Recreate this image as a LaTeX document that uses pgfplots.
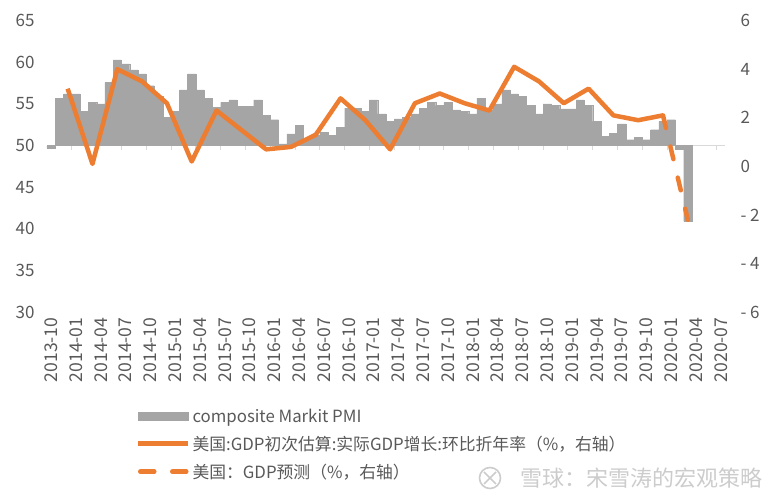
\documentclass[border=0pt]{standalone}
\usepackage{fontspec}
\setmainfont{Noto Sans CJK SC}
\usepackage{pgfplots}
\pgfplotsset{compat=1.18}
\usepackage{pgfplotstable}

\definecolor{bargray}{HTML}{A5A5A5}
\definecolor{gdporange}{HTML}{ED7D31}
\definecolor{axisgray}{HTML}{D9D9D9}
\definecolor{txtgray}{HTML}{595959}
\definecolor{wmgray}{HTML}{CCCCCC}

% monthly composite Markit PMI, m = months since 2013-10
\pgfplotstableread{
m pmi
0 49.7
1 55.7
2 56.2
3 56.2
4 54.1
5 55.2
6 55.0
7 57.6
8 60.3
9 59.8
10 59.1
11 58.6
12 57.2
13 55.9
14 53.4
15 54.1
16 56.7
17 58.6
18 56.7
19 55.7
20 54.6
21 55.2
22 55.5
23 54.7
24 54.7
25 55.5
26 53.6
27 53.1
28 50.2
29 51.4
30 52.4
31 50.9
32 51.2
33 51.6
34 51.2
35 52.2
36 54.5
37 54.5
38 54.1
39 55.5
40 53.8
41 52.9
42 53.2
43 53.4
44 53.8
45 54.5
46 55.2
47 54.8
48 55.2
49 54.3
50 54.1
51 53.8
52 55.7
53 54.2
54 55.0
55 56.7
56 56.2
57 55.9
58 54.8
59 53.8
60 55.0
61 54.8
62 54.4
63 54.4
64 55.5
65 54.8
66 52.9
67 51.1
68 51.5
69 52.6
70 50.7
71 51.0
72 50.7
73 51.9
74 52.9
75 53.1
76 49.6
77 40.9
}\pmidata

% US GDP advance estimate, q/q saar, at quarter-end month
\pgfplotstableread{
m gdp
2 3.2
5 0.1
8 4.0
11 3.5
14 2.6
17 0.2
20 2.3
23 1.5
26 0.7
29 0.8
32 1.3
35 2.8
38 1.9
41 0.7
44 2.6
47 3.0
50 2.6
53 2.3
56 4.1
59 3.5
62 2.6
65 3.2
68 2.1
71 1.9
74 2.1
}\gdpdata

\pgfplotsset{
  base/.style={
    at={(0,0)}, anchor=south west,
    scale only axis, width=678pt, height=291.3pt,
    xmin=-0.5, xmax=81.5,
    clip=false,
  },
}

\begin{document}
\begin{tikzpicture}[x=1pt,y=1pt]
\path[use as bounding box] (-47,-190) rectangle (725,312);

% left axis: PMI bars, drawn from the 50 line
\begin{axis}[base,
  ymin=-20, ymax=15,
  axis x line=middle, axis y line*=left,
  x axis line style={draw=axisgray, line width=1.3pt, -},
  y axis line style={draw=none},
  xtick={2.5,5.5,...,80.5}, xticklabels={},
  tick align=outside, major tick length=4pt,
  x tick style={draw=axisgray, line width=1pt},
  y tick style={draw=none},
  ytick={-20,-15,...,15}, yticklabels={30,35,40,45,50,55,60,65},
  yticklabel style={font=\fontsize{17}{20}\selectfont, text=txtgray, xshift=-5pt},
  legend style={at={(0.131,-0.325)}, anchor=north west, draw=none, fill=none,
    font=\fontsize{16.8}{19}\selectfont, text=txtgray, cells={anchor=west},
    row sep=8pt, inner sep=0pt},
]
\addplot[ybar, bar width=1, bar shift=0pt, fill=bargray, draw=bargray, line width=0.2pt,
  legend image code/.code={\fill[bargray] (0pt,-4pt) rectangle (50pt,4pt);}]
  table[x=m, y expr=\thisrow{pmi}-50] {\pmidata};
\addlegendentry{composite Markit PMI}
\addlegendimage{legend image code/.code={\draw[gdporange, line width=4.5pt] (0pt,0pt) -- (50pt,0pt);}}
\addlegendentry{美国:GDP初次估算:实际GDP增长:环比折年率（\%，右轴）}
\addlegendimage{legend image code/.code={\draw[gdporange, line width=4.5pt, line cap=round, dash pattern=on 14pt off 18pt] (2pt,0pt) -- (48pt,0pt);}}
\addlegendentry{美国：GDP预测（\%，右轴）}
\end{axis}

% right axis: GDP growth lines, and the date labels
\begin{axis}[base,
  ymin=-6, ymax=6,
  axis x line*=bottom, axis y line*=right,
  axis line style={draw=none}, tick style={draw=none},
  xtick={0,3,...,81},
  xticklabels={2013-10,2014-01,2014-04,2014-07,2014-10,2015-01,2015-04,2015-07,2015-10,
    2016-01,2016-04,2016-07,2016-10,2017-01,2017-04,2017-07,2017-10,2018-01,2018-04,
    2018-07,2018-10,2019-01,2019-04,2019-07,2019-10,2020-01,2020-04,2020-07},
  xticklabel style={rotate=90, anchor=east, font=\fontsize{17.6}{20}\selectfont, text=txtgray, xshift=-2pt},
  ytick={-6,-4,...,6}, yticklabels={- 6,- 4,- 2,0,2,4,6},
  yticklabel style={font=\fontsize{17}{20}\selectfont, text=txtgray, xshift=12pt},
]
\addplot[gdporange, line width=4.5pt, line join=round] table[x=m, y=gdp] {\gdpdata};
\addplot[gdporange, line width=4.5pt, line cap=round, dash pattern=on 13pt off 19pt]
  coordinates {(74,2.1) (77,-2.2)};
\end{axis}

% watermark
\draw[wmgray, line width=1.6pt] (443,-166) circle (10.5);
\draw[wmgray, line width=1.6pt] (437,-160) .. controls (443,-166) .. (449,-172);
\draw[wmgray, line width=1.6pt] (449,-160) .. controls (443,-166) .. (437,-172);
\node[anchor=east, text=wmgray, font=\fontsize{22}{24}\selectfont, inner sep=0pt] at (716,-166) {雪球：宋雪涛的宏观策略};
\end{tikzpicture}
\end{document}
